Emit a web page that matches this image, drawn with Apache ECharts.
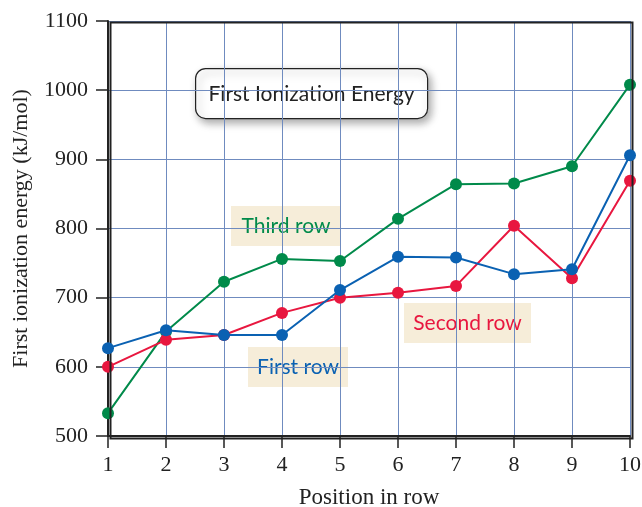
<!DOCTYPE html>
<html>
<head>
<meta charset="utf-8">
<script src="https://cdn.jsdelivr.net/npm/echarts@6/dist/echarts.min.js"></script>
<style>
html,body{margin:0;padding:0;background:#fff;}
#c{width:642px;height:507px;}
</style>
</head>
<body>
<div id="c"></div>
<script>
var positions = [1, 2, 3, 4, 5, 6, 7, 8, 9, 10];
var firstRow  = [627, 653, 646, 646, 711, 759, 758, 734, 741, 906];
var secondRow = [600, 639, 646, 678, 700, 707, 717, 804, 728, 869];
var thirdRow  = [533, 651, 723, 756, 753, 814, 864, 865, 890, 1008];
var yTicks = [500, 600, 700, 800, 900, 1000, 1100];

function pairs(vals){ return positions.map(function(p,i){ return [p, vals[i]]; }); }

var GRID = '#6f8bbf';
var serif = '"Liberation Serif", "DejaVu Serif", serif';
var sans = 'Lato, "Open Sans", sans-serif';

var chart = echarts.init(document.getElementById('c'), null, {renderer:'canvas'});

function series(name, vals, color, z){
  return {
    name: name, type: 'line', data: pairs(vals), z: z,
    symbol: 'circle', symbolSize: 12,
    lineStyle: {color: color, width: 2},
    itemStyle: {color: color},
    emphasis: {disabled: true}, animation: false
  };
}

function tag(x, y, w, h, text, color){
  return {
    type: 'group', left: x, top: y, z: 100,
    children: [
      {type:'rect', shape:{x:0,y:0,width:w,height:h}, style:{fill:'#f6edd9'}},
      {type:'text', x: w/2, y: h/2, style:{text:text, fill:color, font:'21px ' + sans, textAlign:'center', textVerticalAlign:'middle'}}
    ]
  };
}

chart.setOption({
  animation: false,
  grid: {left:108, right:12, top:21, bottom:71, show:false, containLabel:false, outerBoundsMode:'none'},
  xAxis: {
    type:'value', min:1, max:10, interval:1,
    name:'Position in row', nameLocation:'middle', nameGap:50,
    nameTextStyle:{fontFamily:serif, fontSize:23, color:'#222'},
    axisLine:{show:true, lineStyle:{color:'#222', width:2}},
    axisTick:{show:true, length:12, lineStyle:{color:'#222', width:1.5}},
    axisLabel:{fontFamily:serif, fontSize:22, color:'#222', margin:18},
    splitLine:{show:true, lineStyle:{color:GRID, width:1}}
  },
  yAxis: {
    type:'value', min:yTicks[0], max:yTicks[yTicks.length-1], interval:100,
    name:'First ionization energy (kJ/mol)', nameLocation:'middle', nameGap:76,
    nameTextStyle:{fontFamily:serif, fontSize:22, color:'#222'},
    axisLine:{show:true, lineStyle:{color:'#222', width:2}},
    axisTick:{show:true, length:12, lineStyle:{color:'#222', width:1.5}},
    axisLabel:{fontFamily:serif, fontSize:22, color:'#222', margin:20, formatter:function(v){return String(v);}},
    splitLine:{show:true, lineStyle:{color:GRID, width:1}}
  },
  graphic: [
    {type:'rect', left:108, top:20, z:5, shape:{width:522, height:416}, style:{fill:'none', stroke:'#222', lineWidth:2}},
    {
      type:'group', left:195, top:68, z:100,
      children:[
        {type:'rect', shape:{x:0,y:0,width:232,height:50,r:10},
         style:{fill:'#fff', stroke:'#222', lineWidth:1.2, shadowBlur:8, shadowOffsetX:3, shadowOffsetY:4, shadowColor:'rgba(0,0,0,0.35)'}},
        {type:'text', x:116, y:26, style:{text:'First Ionization Energy', fill:'#222', font:'21px ' + sans, textAlign:'center', textVerticalAlign:'middle'}}
      ]
    },
    tag(231, 206, 110, 40, 'Third row', '#008a4a'),
    tag(248, 347, 100, 40, 'First row', '#0a61b2'),
    tag(404, 303, 127, 40, 'Second row', '#e8173f')
  ],
  series: [
    series('Third row', thirdRow, '#008a4a', 3),
    series('Second row', secondRow, '#e8173f', 4),
    series('First row', firstRow, '#0a61b2', 5)
  ]
});
</script>
</body>
</html>
